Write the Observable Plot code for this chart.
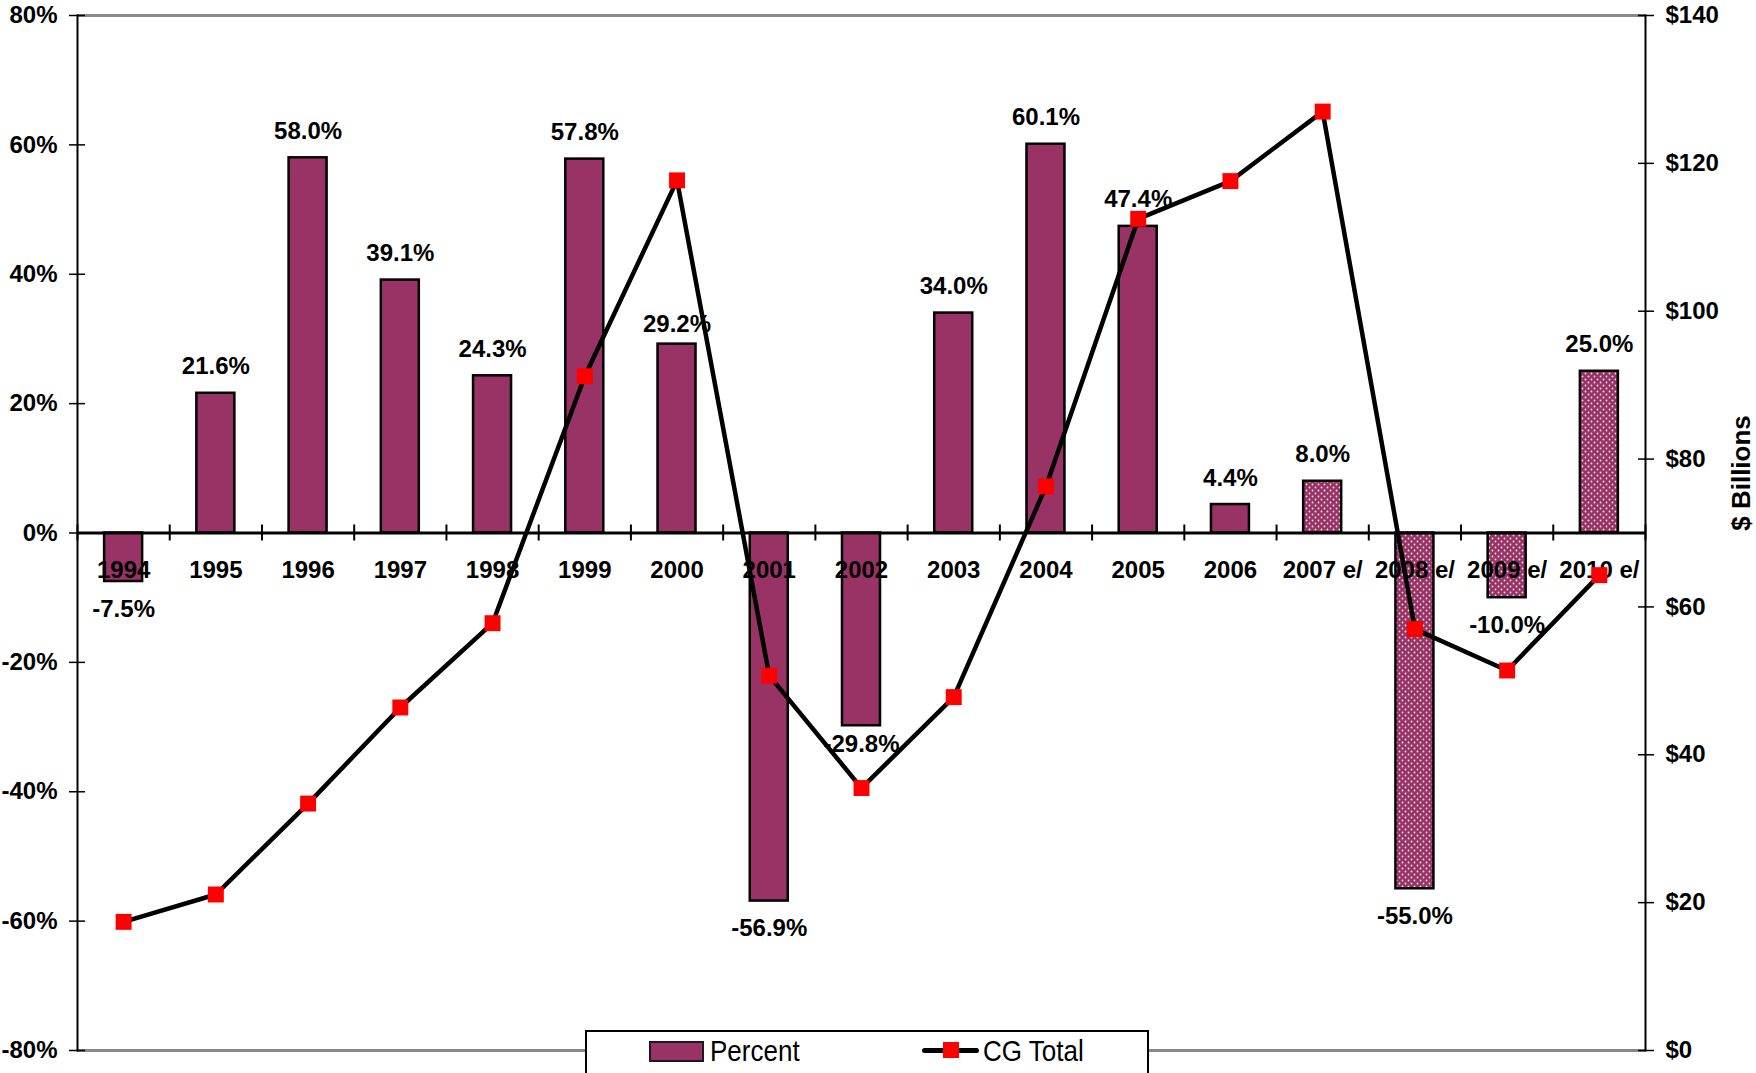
<!DOCTYPE html>
<html>
<head>
<meta charset="utf-8">
<script src="https://cdn.jsdelivr.net/npm/d3@7"></script>
<script src="https://cdn.jsdelivr.net/npm/@observablehq/plot@0.6"></script>
<style>
  html, body { margin: 0; padding: 0; background: #fff; overflow: hidden; }
  #wrap { position: relative; width: 1756px; height: 1073px; overflow: hidden; }
  #legend {
    position: absolute; left: 585px; top: 1030px; width: 564px; height: 52px;
    box-sizing: border-box; border: 2px solid #000; background: #fff;
    font-family: "Liberation Sans", Arial, sans-serif; font-size: 26px; color: #000;
  }
  #legend .sw { position: absolute; left: 62px; top: 9px; width: 55px; height: 21px;
    box-sizing: border-box; background: #993366; border: 2px solid #1a1a1a; }
  #legend .lbl { position: absolute; top: 7px; line-height: 26px; white-space: nowrap; transform: scaleY(1.12); transform-origin: 0 100%; }
  #legend .ln { position: absolute; left: 335px; top: 16px; width: 57px; height: 5px;
    background: #000; border-radius: 3px; }
  #legend .sq { position: absolute; left: 356px; top: 10px; width: 16px; height: 16px; background: #ff0000; }
</style>
</head>
<body>
<div id="wrap">
  <div id="chart"></div>
  <div id="legend">
    <span class="sw"></span><span class="lbl" style="left:123px">Percent</span>
    <span class="ln"></span><span class="sq"></span><span class="lbl" style="left:396px">CG Total</span>
  </div>
</div>
<script>
// Fiscal years; the last four are estimates
const categories = ["1994", "1995", "1996", "1997", "1998", "1999", "2000", "2001", "2002",
  "2003", "2004", "2005", "2006", "2007 e/", "2008 e/", "2009 e/", "2010 e/"];
// Year-over-year change in capital gains (%)
const percentChange = [-7.5, 21.6, 58.0, 39.1, 24.3, 57.8, 29.2, -56.9, -29.8,
  34.0, 60.1, 47.4, 4.4, 8.0, -55.0, -10.0, 25.0];
// Capital gains total ($ billions)
const cgTotal = [17.4, 21.1, 33.4, 46.4, 57.8, 91.2, 117.7, 50.7, 35.5,
  47.8, 76.3, 112.5, 117.6, 127.0, 57.0, 51.4, 64.3];
const estimated = [false, false, false, false, false, false, false, false, false,
  false, false, false, false, true, true, true, true];
// Axis ticks
const percentTicks = [-80, -60, -40, -20, 0, 20, 40, 60, 80];
const dollarTicks = [0, 20, 40, 60, 80, 100, 120, 140];

// The dollar series shares the percent y scale: $0..$140 maps onto -80%..80%
const dollarMax = 140;
const toPct = v => v / dollarMax * 160 - 80;
const toDollars = p => (p + 80) / 160 * dollarMax;

const rows = categories.map((year, i) => ({
  year, pct: percentChange[i], cg: cgTotal[i], est: estimated[i]
}));

const W = 1756, H = 1073, ML = 77, MR = 111, MT = 15, MB = 23;
const step = (W - ML - MR) / categories.length;
const font = "'Liberation Sans', Arial, sans-serif";
const bold = {fontSize: 24, fontWeight: "bold", fill: "#000"};
const pctLabel = d => d.pct.toFixed(1) + "%";
// labels sitting closer to their bars, to clear the line
const tucked = new Set(["2000", "2002"]);

const chart = Plot.plot({
  width: W, height: H,
  marginLeft: ML, marginRight: MR, marginTop: MT, marginBottom: MB,
  style: {fontFamily: font, fontSize: "24px", fontWeight: "bold", color: "#000", background: "#fff"},
  x: {type: "band", domain: categories, paddingInner: 0.588, paddingOuter: 0.294, round: false, axis: null},
  y: {domain: [-80, 80], axis: null},
  marks: [
    // top and bottom borders
    Plot.ruleY([80, -80], {stroke: "#888", strokeWidth: 3}),
    // bars
    Plot.barY(rows.filter(d => !d.est), {x: "year", y: "pct", fill: "#993366", stroke: "#000", strokeWidth: 2.5}),
    Plot.barY(rows.filter(d => d.est), {x: "year", y: "pct", fill: "url(#cg-dots)", stroke: "#000", strokeWidth: 2.5}),
    // zero baseline with tick marks between categories
    Plot.ruleY([0], {stroke: "#000", strokeWidth: 3}),
    Plot.ruleX(categories, {x: d => d, y1: 0, y2: 0, insetTop: -8, insetBottom: -8, dx: step / 2, stroke: "#000", strokeWidth: 2}),
    Plot.ruleX(categories.slice(0, 1), {x: d => d, y1: 0, y2: 0, insetTop: -8, insetBottom: -8, dx: -step / 2, stroke: "#000", strokeWidth: 2}),
    // axis lines
    Plot.frame({anchor: "left", stroke: "#000", strokeWidth: 2}),
    Plot.frame({anchor: "right", stroke: "#000", strokeWidth: 2}),
    // left axis (percent): tick marks crossing the axis line, then labels
    Plot.axisY({anchor: "left", ticks: percentTicks, tickSize: 16, dx: 8, tickFormat: () => "", label: null,
      stroke: "#000", strokeWidth: 1.5}),
    Plot.axisY({anchor: "left", ticks: percentTicks, tickFormat: d => d + "%", tickSize: 0, tickPadding: 20,
      label: null, ...bold}),
    // right axis ($ billions)
    Plot.axisY({anchor: "right", ticks: dollarTicks.map(toPct), tickSize: 16, dx: -8, tickFormat: () => "", label: null,
      stroke: "#000", strokeWidth: 1.5}),
    Plot.axisY({anchor: "right", ticks: dollarTicks.map(toPct), tickFormat: p => "$" + Math.round(toDollars(p)),
      tickSize: 0, tickPadding: 20, label: null, ...bold}),
    Plot.text(["$ Billions"], {text: d => d, frameAnchor: "right", textAnchor: "middle", lineAnchor: "middle",
      rotate: -90, dx: 96, dy: -60, fontSize: 26, fontWeight: "bold", fill: "#000"}),
    // year labels under the baseline
    Plot.text(rows, {x: "year", y: () => 0, text: "year", lineAnchor: "top", dy: 28, ...bold}),
    // value labels
    Plot.text(rows.filter(d => d.pct >= 0 && !tucked.has(d.year)), {x: "year", y: "pct", text: pctLabel,
      lineAnchor: "bottom", dy: -19, ...bold}),
    Plot.text(rows.filter(d => d.pct >= 0 && tucked.has(d.year)), {x: "year", y: "pct", text: pctLabel,
      lineAnchor: "bottom", dy: -12, ...bold}),
    Plot.text(rows.filter(d => d.pct < 0 && !tucked.has(d.year)), {x: "year", y: "pct", text: pctLabel,
      lineAnchor: "top", dy: 18, ...bold}),
    Plot.text(rows.filter(d => d.pct < 0 && tucked.has(d.year)), {x: "year", y: "pct", text: pctLabel,
      lineAnchor: "top", dy: 9, ...bold}),
    // CG total line
    Plot.line(rows, {x: "year", y: d => toPct(d.cg), stroke: "#000", strokeWidth: 4.5}),
    Plot.dot(rows, {x: "year", y: d => toPct(d.cg), symbol: "square", r: 9, fill: "#ff0000", stroke: "none"})
  ]
});

// Dotted fill for the estimated years
const defs = d3.select(chart).insert("defs", ":first-child");
const pat = defs.append("pattern").attr("id", "cg-dots")
  .attr("patternUnits", "userSpaceOnUse").attr("width", 6).attr("height", 6);
pat.append("rect").attr("width", 6).attr("height", 6).attr("fill", "#993366");
pat.append("circle").attr("cx", 1.5).attr("cy", 1.5).attr("r", 0.9).attr("fill", "#f4e6ee");
pat.append("circle").attr("cx", 4.5).attr("cy", 4.5).attr("r", 0.9).attr("fill", "#f4e6ee");

document.getElementById("chart").appendChild(chart);
</script>
</body>
</html>
